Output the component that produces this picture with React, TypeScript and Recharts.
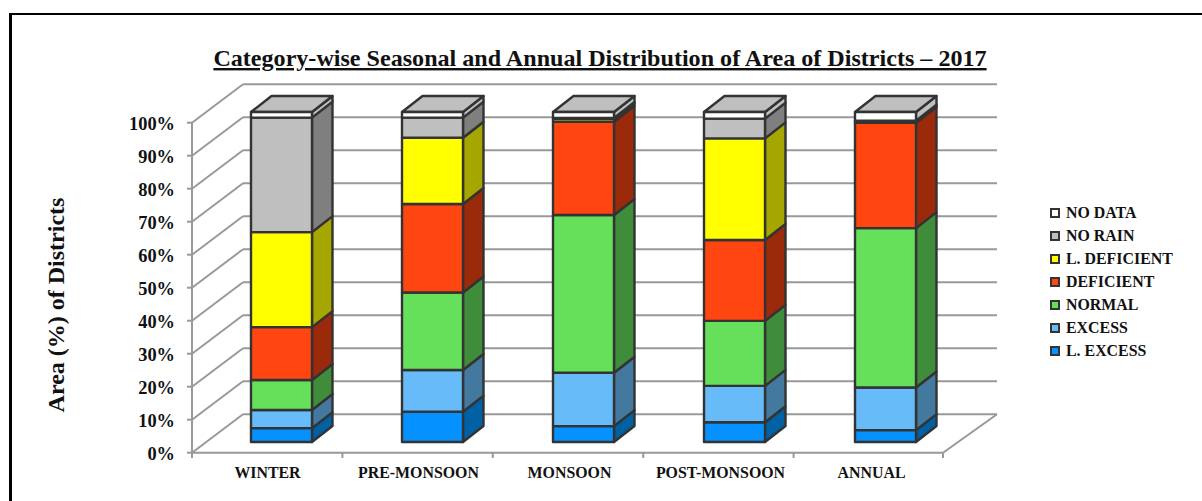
import { Bar, BarChart, CartesianGrid, Legend, XAxis, YAxis } from "recharts"

const categories = ["WINTER", "PRE-MONSOON", "MONSOON", "POST-MONSOON", "ANNUAL"]
const lExcess = [4.2, 9.2, 4.8, 6, 3.6]
const excess = [5.5, 12.6, 16.2, 11, 12.9]
const normal = [9.1, 23.5, 47.8, 19.7, 48.3]
const deficient = [16, 26.8, 28.2, 24.5, 31.9]
const lDeficient = [28.8, 20.1, 0.9, 30.8, 0.3]
const noRain = [34.7, 6.1, 0.3, 6, 0.4]
const noData = [1.7, 1.7, 1.8, 2, 2.6]
const yTicks = [0, 10, 20, 30, 40, 50, 60, 70, 80, 90, 100]

const data = categories.map((name, i) => ({
  name,
  lExcess: lExcess[i],
  excess: excess[i],
  normal: normal[i],
  deficient: deficient[i],
  lDeficient: lDeficient[i],
  noRain: noRain[i],
  noData: noData[i],
}))

const FONT = "'Liberation Serif', 'Times New Roman', serif"
const WALL = "#999999"
const EDGE = "#333333"
const DEPTH_X = 20.5
const DEPTH_Y = 16

function Box(props: any) {
  const { x, y, width, height, fill, side, top } = props
  if (!width) return null
  const r = x + width
  const b = y + height
  return (
    <g stroke={EDGE} strokeWidth={2.4} strokeLinejoin="round">
      <polygon
        points={`${r},${y} ${r + DEPTH_X},${y - DEPTH_Y} ${r + DEPTH_X},${b - DEPTH_Y} ${r},${b}`}
        fill={side}
      />
      {top && (
        <polygon
          points={`${x},${y} ${x + DEPTH_X},${y - DEPTH_Y} ${r + DEPTH_X},${y - DEPTH_Y} ${r},${y}`}
          fill="#bfbfbf"
        />
      )}
      <rect x={x} y={y} width={width} height={height} fill={fill} />
    </g>
  )
}

// back wall and left wall lines, moved off the bar plane
function WallLine(props: any) {
  const y = props.y1
  const front = y + 10.7
  const back = y - 27.7
  return (
    <g stroke={WALL} strokeWidth={2} fill="none">
      <line x1={192} y1={front} x2={243} y2={back} />
      <line x1={243} y1={back} x2={997} y2={back} />
      {props.index === 0 && <path d={`M192 ${front} H943 L997 ${back}`} />}
    </g>
  )
}

function YTick(props: any) {
  const { y, payload } = props
  return (
    <g>
      <line x1={187} y1={y + 10.7} x2={192} y2={y + 10.7} stroke={WALL} strokeWidth={2} />
      {payload.value === 100 && <line x1={192} y1={y + 10.7} x2={192} y2={y + 340.7} stroke={WALL} strokeWidth={2} />}
      <text x={175} y={y + 18} textAnchor="end" fontFamily={FONT} fontWeight="bold" fontSize={18.4} fill="#111">
        {payload.value}%
      </text>
    </g>
  )
}

function XTick(props: any) {
  const { x, y, payload, index } = props
  return (
    <g>
      <line x1={192 + index * 150.4} y1={453} x2={192 + index * 150.4} y2={458} stroke={WALL} strokeWidth={2} />
      {index === 4 && <line x1={943} y1={453} x2={943} y2={458} stroke={WALL} strokeWidth={2} />}
      <text x={x - 14} y={y + 28} textAnchor="middle" fontFamily={FONT} fontWeight="bold" fontSize={15.9} fill="#111">
        {payload.value}
      </text>
    </g>
  )
}

function LegendList(props: any) {
  const items = props.payload ?? []
  return (
    <div style={{ fontFamily: FONT, fontWeight: "bold", fontSize: 15.9, color: "#111" }}>
      {items.map((item: any) => (
        <div key={item.value} style={{ display: "flex", alignItems: "center", height: 23 }}>
          <span
            style={{
              width: 6,
              height: 6,
              background: item.color,
              border: `2px solid ${EDGE}`,
              marginRight: 6,
              flex: "none",
            }}
          />
          <span style={{ whiteSpace: "nowrap" }}>{item.value}</span>
        </div>
      ))}
    </div>
  )
}

const legendOrder = ["NO DATA", "NO RAIN", "L. DEFICIENT", "DEFICIENT", "NORMAL", "EXCESS", "L. EXCESS"]

export default function App() {
  return (
    <div style={{ position: "absolute", left: 0, top: 0, width: 1202, height: 501, overflow: "hidden", background: "#fff" }}>
      <div
        style={{
          position: "absolute",
          left: 9,
          top: 13,
          width: 1300,
          height: 600,
          borderLeft: "3px solid #000",
          borderTop: "2px solid #000",
        }}
      />
      <BarChart
        width={1202}
        height={501}
        data={data}
        margin={{ top: 112, left: 146, right: 91, bottom: 0 }}
        barSize={61}
        style={{ position: "absolute", left: 0, top: 0 }}
      >
        <text
          x={600}
          y={66}
          textAnchor="middle"
          fontFamily={FONT}
          fontWeight="bold"
          fontSize={24.1}
          textDecoration="underline"
          fill="#111"
        >
          Category-wise Seasonal and Annual Distribution of Area of Districts – 2017
        </text>
        <text
          x={64}
          y={305}
          transform="rotate(-90 64 305)"
          textAnchor="middle"
          fontFamily={FONT}
          fontWeight="bold"
          fontSize={24}
          fill="#111"
        >
          Area (%) of Districts
        </text>
        <CartesianGrid vertical={false} horizontal={WallLine} />
        <XAxis dataKey="name" axisLine={false} tickLine={false} tick={XTick} interval={0} height={59} />
        <YAxis
          domain={[0, 100]}
          ticks={yTicks}
          interval={0}
          width={60}
          axisLine={false}
          tickLine={false}
          tick={YTick}
        />
        <Legend
          layout="vertical"
          align="right"
          verticalAlign="top"
          content={LegendList}
          itemSorter={(item: any) => legendOrder.indexOf(item.value)}
          wrapperStyle={{ left: 1050, top: 201, width: 150 }}
        />
        <Bar dataKey="lExcess" name="L. EXCESS" stackId="a" fill="#0591ff" isAnimationActive={false} shape={(p: any) => <Box {...p} side="#0060a4" />} />
        <Bar dataKey="excess" name="EXCESS" stackId="a" fill="#66bbf8" isAnimationActive={false} shape={(p: any) => <Box {...p} side="#43789f" />} />
        <Bar dataKey="normal" name="NORMAL" stackId="a" fill="#66e05a" isAnimationActive={false} shape={(p: any) => <Box {...p} side="#3f8c3a" />} />
        <Bar dataKey="deficient" name="DEFICIENT" stackId="a" fill="#ff4510" isAnimationActive={false} shape={(p: any) => <Box {...p} side="#9b2a0a" />} />
        <Bar dataKey="lDeficient" name="L. DEFICIENT" stackId="a" fill="#ffff00" isAnimationActive={false} shape={(p: any) => <Box {...p} side="#a6a600" />} />
        <Bar dataKey="noRain" name="NO RAIN" stackId="a" fill="#bfbfbf" isAnimationActive={false} shape={(p: any) => <Box {...p} side="#7f7f7f" />} />
        <Bar dataKey="noData" name="NO DATA" stackId="a" fill="#ffffff" isAnimationActive={false} shape={(p: any) => <Box {...p} side="#bfbfbf" top />} />
      </BarChart>
    </div>
  )
}
